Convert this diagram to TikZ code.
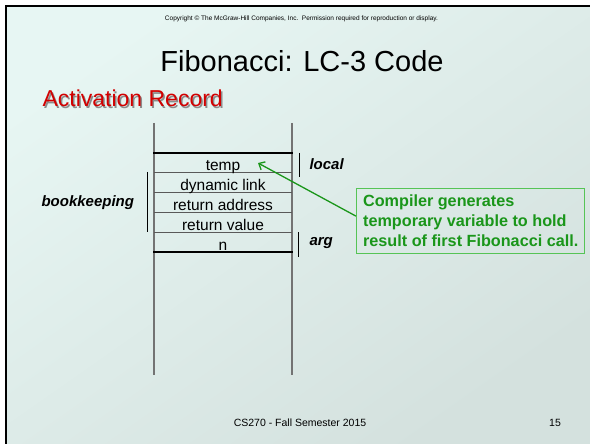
\documentclass[tikz,border=0pt]{standalone}
\usepackage{fontspec}
\setmainfont{Liberation Sans}
\usetikzlibrary{arrows.meta,shadings}
\definecolor{slidebg}{RGB}{231,246,243}
\definecolor{slidebgdark}{RGB}{212,225,222}
\definecolor{titlered}{RGB}{210,0,0}
\definecolor{notegreen}{RGB}{26,150,26}
\definecolor{noteframe}{RGB}{86,196,86}

\begin{document}
\begin{tikzpicture}[x=1pt,y=-1pt,
    cell/.style={font=\fontsize{15.5}{18}\selectfont, anchor=base},
    side/.style={font=\fontsize{15}{18}\selectfont\bfseries\itshape, anchor=base west},
    rail/.style={draw=black!55, line width=1.3pt},
    sep/.style={draw=black!65, line width=0.8pt},
    bound/.style={draw=black, line width=2.5pt},
    bracket/.style={draw=black, line width=1pt},
    note/.style={draw=noteframe, line width=1.3pt, text=notegreen, align=left,
        font=\fontsize{16.2}{20}\selectfont\bfseries, inner xsep=6.5pt, minimum height=65pt},
    pointer/.style={draw=notegreen, line width=1.3pt, -{Straight Barb[length=5pt,width=9pt]}}]
\useasboundingbox (0,0) rectangle (590,444);
%sfondo
\shade[top color=slidebg, bottom color=slidebgdark, shading angle=35] (0,0) rectangle (590,444);
\fill[white] (0,0) rectangle (590,5);
\fill[white] (0,0) rectangle (5,444);
\draw[line width=2.5pt] (6.2,444) -- (6.2,6.2) -- (590,6.2);
%testi
\node[font=\fontsize{6.5}{8}\selectfont, anchor=base] (copy) at (301.5,20.5)
    {Copyright © The McGraw-Hill Companies, Inc.\ \ Permission required for reproduction or display.};
\node[font=\fontsize{29}{34}\selectfont, anchor=base] (title) at (302,72) {Fibonacci: LC-3 Code};
\node[font=\fontsize{23}{27}\selectfont, anchor=base west, text=black!45] (shadow) at (40.5,108.5) {Activation Record};
\node[font=\fontsize{23}{27}\selectfont, anchor=base west, text=titlered] (record) at (39,107) {Activation Record};
%pila
\draw[rail] (154,123) -- (154,375);
\draw[rail] (292,123) -- (292,375);
\draw[bound] (153,153) -- (293,153);
\draw[bound] (153,252) -- (293,252);
\foreach \y in {172,192,212,232}
    \draw[sep] (154,\y) -- (292,\y);
\node[cell] (temp) at (223,170.5) {temp};
\node[cell] (dyn) at (223,190) {dynamic link};
\node[cell] (ret) at (223,210) {return address};
\node[cell] (val) at (223,230) {return value};
\node[cell] (arg) at (223,250) {n};
%etichette
\draw[bracket] (299,153) -- (299,177);
\draw[bracket] (147,172) -- (147,232);
\draw[bracket] (298,232) -- (298,257);
\node[side] (local) at (306,170) {local};
\node[side] (keep) at (38,207) {bookkeeping};
\node[side] (argl) at (306,245.5) {arg};
%nota
\node[note, anchor=north west] (note) at (356,188)
    {Compiler generates\\temporary variable to hold\\result of first Fibonacci call.};
\coordinate (tip) at (258,163);
\draw[pointer] ([yshift=5pt]note.west) -- (tip);
%piede
\node[font=\fontsize{10.5}{12}\selectfont, anchor=base] (foot) at (300,426) {CS270 - Fall Semester 2015};
\node[font=\fontsize{10.5}{12}\selectfont, anchor=base] (page) at (555,426) {15};
\end{tikzpicture}
\end{document}
